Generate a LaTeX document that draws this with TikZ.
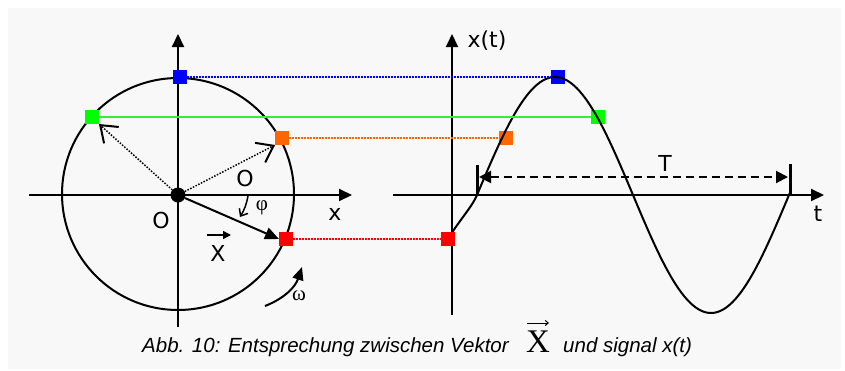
\documentclass[tikz,border=0pt]{standalone}
\usepackage{fontspec}
\setmainfont{DejaVu Sans}
\newfontfamily\capfont{Liberation Sans}
\newfontfamily\serfont{Liberation Serif}
\usetikzlibrary{arrows.meta,calc}
\definecolor{bgc}{HTML}{F8F8F8}
\definecolor{cblue}{HTML}{0000FF}
\definecolor{cgreen}{HTML}{00FF00}
\definecolor{cgline}{HTML}{33EE33}
\definecolor{corange}{HTML}{FF6600}
\definecolor{cred}{HTML}{FF0000}
\begin{document}
\begin{tikzpicture}[x=1pt,y=-1pt,
  sq/.style={minimum size=14pt,inner sep=0pt,outer sep=0pt,fill=#1},
  axisline/.style={line width=2pt,-{Triangle[length=13pt,width=12pt]}},
  lbl/.style={font=\fontsize{22}{24}\selectfont,inner sep=0pt},
  serlbl/.style={font=\serfont\fontsize{21}{24}\selectfont,inner sep=0pt},
  dotline/.style={line width=1.5pt,dash pattern=on 1.5pt off 1.5pt},
  barbtip/.style={line width=2pt,-{Straight Barb[length=15pt,width=22pt]}},
  captext/.style={font=\capfont\itshape\fontsize{20.5}{24}\selectfont,inner sep=0pt,anchor=base west}]
\useasboundingbox (0,0) rectangle (845,370);
\fill[bgc] (8,8) rectangle (841,369);

% left axes
\coordinate (lxa) at (29,195); \coordinate (lxb) at (352,195);
\coordinate (lya) at (178,327); \coordinate (lyb) at (178,34);
\draw[axisline] (lxa) -- (lxb);
\draw[axisline] (lya) -- (lyb);
% circle
\coordinate (C) at (178,194);
\draw[line width=2pt] (C) circle[radius=116pt];
% right axes
\coordinate (rxa) at (393,195); \coordinate (rxb) at (824,195);
\coordinate (rya) at (452,315); \coordinate (ryb) at (452,34);
\draw[axisline] (rxa) -- (rxb);
\draw[axisline] (rya) -- (ryb);

% squares
\node[sq=cblue] (bL) at (180,77) {};
\node[sq=cgreen] (gL) at (92,117) {};
\node[sq=corange] (oL) at (282,138) {};
\node[sq=cred] (rL) at (286,239) {};
\node[sq=cblue] (bR) at (558,77) {};
\node[sq=cgreen] (gR) at (598,117) {};
\node[sq=corange] (oR) at (506,138) {};
\node[sq=cred] (rR) at (448,239) {};

% signal curve
\coordinate (z0) at (477,195);
\draw[line width=2pt,line join=round] (rR.center) .. controls (458,222) and (472,207) .. (z0) -- plot[domain=477:790,samples=120,smooth] (\x,{195-118*sin((\x-477)/312*360)});
\node[sq=cred] at (rR) {};

% horizontal lines
\draw[dotline,cblue] (bL) -- (bR);
\draw[line width=2pt,cgline] (gL) -- (gR);
\draw[dotline,corange] (oL) -- (oR);
\draw[dotline,cred] (rL) -- (rR);

% centre dot and vectors
\node[circle,fill=black,minimum size=15pt,inner sep=0pt] (O) at (178,195) {};
\draw[dotline] (O) -- (gL.south east);
\draw[barbtip] ($(gL.south east)!2pt!(O)$) -- (gL.south east);
\draw[dotline] (O) -- (oL.south west);
\draw[barbtip] ($(oL.south west)!2pt!(O)$) -- (oL.south west);
\draw[line width=2pt,-{Triangle[length=14pt,width=12pt]}] (O) -- (rL.west);

% labels left
\node[lbl] (o1) at (245,178) {O};
\node[lbl] (o2) at (161,220) {O};
\node[lbl] (xl) at (335,214) {x};
\node[serlbl] (phi) at (262,208) {φ};
\coordinate (pa) at (248,196); \coordinate (pb) at (240,217);
\draw[line width=1.5pt,-{Straight Barb[length=6pt,width=10pt]}] (pa) to[bend left=10] (pb);
\node[lbl] (Xv) at (218,253) {X};
\coordinate (xa) at (207,235); \coordinate (xb) at (231,235);
\draw[line width=1.5pt,-{Triangle[length=8pt,width=8pt]}] (xa) -- (xb);
\node[serlbl] (om) at (299,296) {ω};
\coordinate (wa) at (265,306); \coordinate (wb) at (302,267);
\draw[line width=2pt,-{Triangle[length=13pt,width=11pt]}] (wa) to[bend right=25] (wb);

% labels right
\node[lbl] (xt) at (487,41) {x(t)};
\node[lbl] (tl) at (818,214) {t};
\node[lbl] (Tl) at (665,163) {T};
\coordinate (t1a) at (477,165); \coordinate (t1b) at (477,196);
\coordinate (t2a) at (790,164); \coordinate (t2b) at (790,196);
\draw[line width=3pt] (t1a) -- (t1b);
\draw[line width=3pt] (t2a) -- (t2b);
\coordinate (Ta) at (479,177); \coordinate (Tb) at (788,177);
\draw[line width=2pt,dash pattern=on 8pt off 5pt,{Triangle[length=12pt,width=12pt]}-{Triangle[length=12pt,width=12pt]}] (Ta) -- (Tb);

% caption
\node[captext] (cap1) at (142,352) {Abb. 10: Entsprechung zwischen Vektor};
\node[font=\serfont\fontsize{33}{36}\selectfont,inner sep=0pt,anchor=base west] (capX) at (526,352) {X};
\coordinate (ca) at (527,323); \coordinate (cb) at (549,323);
\draw[line width=1pt,-{Straight Barb[length=3pt,width=5pt]}] (ca) -- (cb);
\node[captext] (cap2) at (563,352) {und signal x(t)};
\end{tikzpicture}
\end{document}
